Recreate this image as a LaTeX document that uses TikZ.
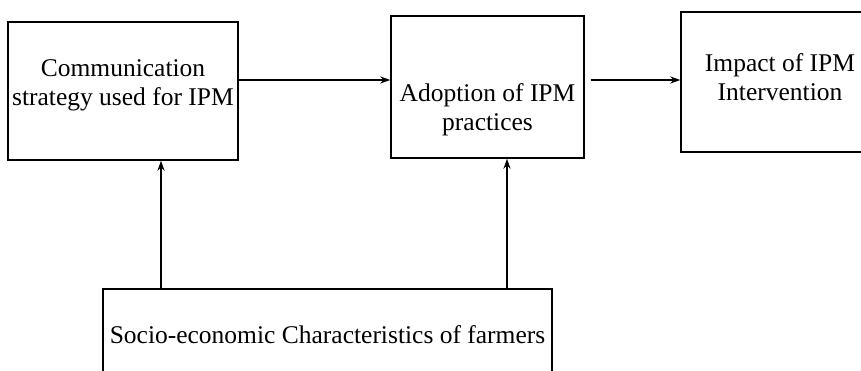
\documentclass[tikz,border=0pt]{standalone}
\usepackage{fontspec}
\setmainfont{Liberation Serif}
\usetikzlibrary{arrows.meta, positioning}

\begin{document}
\begin{tikzpicture}[x=1pt, y=-1pt,
  every node/.style={font=\fontsize{25.5}{29}\selectfont},
  box/.style={draw, line width=1.4pt, align=center, inner sep=0pt},
  flow/.style={-{Stealth[length=10pt, width=7pt]}, line width=1.4pt}]
  \clip (0,0) rectangle (861,371);
  % boxes of the framework
  \node[box, minimum width=230pt, minimum height=138pt, text height=60pt, text depth=30pt] (comm) at (123,91) {Communication\\strategy used for IPM};
  \node[box, minimum width=193pt, minimum height=142pt, text height=92pt, text depth=4pt] (adopt) at (487.5,87) {Adoption of IPM\\practices};
  \node[box, minimum width=198pt, minimum height=140pt, text height=64pt, text depth=26pt] (impact) at (780,82) {Impact of IPM\\Intervention};
  \node[box, minimum width=449pt, minimum height=96pt, text height=18pt, text depth=6pt] (socio) at (327.5,337) {Socio-economic Characteristics of farmers};

  % links
  \draw[flow] ([yshift=11pt]comm.east) -- ([yshift=11pt]comm.east -| adopt.west);
  \draw[flow] ([xshift=6pt, yshift=7pt]adopt.east) -- ([yshift=7pt]adopt.east -| impact.west);
  \draw[flow] ([xshift=38pt]comm.south |- socio.north) -- ([xshift=38pt]comm.south);
  \draw[flow] ([xshift=19.5pt]adopt.south |- socio.north) -- ([xshift=19.5pt]adopt.south);
\end{tikzpicture}
\end{document}
